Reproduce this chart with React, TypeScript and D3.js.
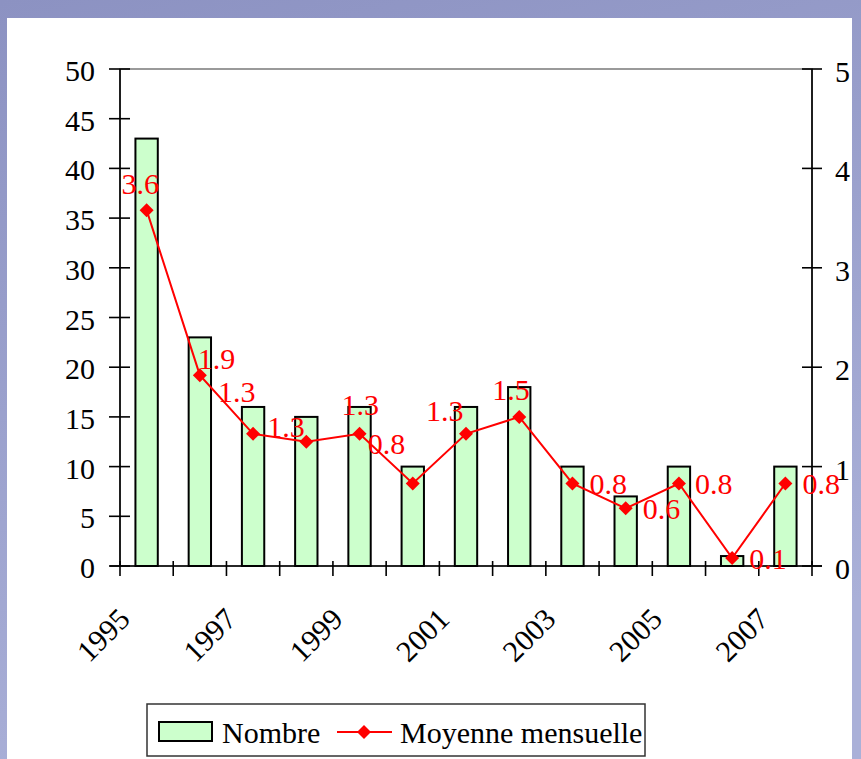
import * as d3 from "d3";
import { useEffect, useRef } from "react";

const years = ["1995", "1996", "1997", "1998", "1999", "2000", "2001", "2002", "2003", "2004", "2005", "2006", "2007"];
const nombre = [43, 23, 16, 15, 16, 10, 16, 18, 10, 7, 10, 1, 10];
const moyenne = [3.58, 1.92, 1.33, 1.25, 1.33, 0.83, 1.33, 1.5, 0.83, 0.58, 0.83, 0.08, 0.83];
const leftTicks = [0, 5, 10, 15, 20, 25, 30, 35, 40, 45, 50];
const rightTicks = [0, 1, 2, 3, 4, 5];
const shownYears = ["1995", "1997", "1999", "2001", "2003", "2005", "2007"];
const legendLabels = ["Nombre", "Moyenne mensuelle"];

// where each data label sits relative to its point (left edge, baseline)
const labelNudge: [number, number][] = [
    [-25, -16], [-2, -6], [-35, -32], [-39, -5], [-18, -19], [-45, -29], [-40, -13],
    [-27, -17], [17, 11], [17, 11], [16, 11], [17, 11], [17, 11],
];

const W = 861;
const H = 759;
const FONT = "Liberation Serif, Times New Roman, serif";

export default function App() {
    const svgRef = useRef<SVGSVGElement | null>(null);

    useEffect(() => {
        const svg = d3.select(svgRef.current);
        svg.selectAll("*").remove();

        const plot = { left: 120, right: 812, top: 69, bottom: 566 };

        // slide background
        const defs = svg.append("defs");
        const grad = defs.append("linearGradient").attr("id", "bg").attr("x1", 0).attr("y1", 0).attr("x2", 0.3).attr("y2", 1);
        grad.append("stop").attr("offset", 0).attr("stop-color", "#8c92c2");
        grad.append("stop").attr("offset", 1).attr("stop-color", "#aab0d8");
        svg.append("rect").attr("width", W).attr("height", H).attr("fill", "url(#bg)");
        svg.append("rect").attr("x", 7).attr("y", 18).attr("width", 845).attr("height", H - 18).attr("fill", "#ffffff");

        const x = d3.scaleBand().domain(years).range([plot.left, plot.right]).paddingInner(0.58).paddingOuter(0.29);
        const step = x.step();
        const cx = (d: string) => x(d)! + x.bandwidth() / 2;
        const yL = d3.scaleLinear().domain([0, 50]).range([plot.bottom, plot.top]);
        const yR = d3.scaleLinear().domain([0, 5]).range([plot.bottom, plot.top]);

        const g = svg.append("g").style("font-family", FONT);

        // plot area border
        g.append("rect")
            .attr("x", plot.left).attr("y", plot.top)
            .attr("width", plot.right - plot.left).attr("height", plot.bottom - plot.top)
            .attr("fill", "none").attr("stroke", "#9a9a9a").attr("stroke-width", 2);

        // bars
        g.selectAll("rect.bar")
            .data(nombre)
            .enter()
            .append("rect")
            .attr("class", "bar")
            .attr("x", (_, i) => x(years[i])!)
            .attr("width", x.bandwidth())
            .attr("y", (d) => yL(d))
            .attr("height", (d) => plot.bottom - yL(d))
            .attr("fill", "#ccffcc")
            .attr("stroke", "#000")
            .attr("stroke-width", 2);

        // axes
        const axis = g.append("g").attr("stroke", "#000").attr("stroke-width", 1.6);
        axis.append("line").attr("x1", plot.left).attr("x2", plot.left).attr("y1", plot.top).attr("y2", plot.bottom);
        axis.append("line").attr("x1", plot.right).attr("x2", plot.right).attr("y1", plot.top).attr("y2", plot.bottom);
        axis.append("line").attr("x1", plot.left - 10).attr("x2", plot.right + 10).attr("y1", plot.bottom).attr("y2", plot.bottom);

        leftTicks.forEach((t) => {
            axis.append("line").attr("x1", plot.left - 11).attr("x2", plot.left + 10).attr("y1", yL(t)).attr("y2", yL(t));
            g.append("text").attr("x", 95).attr("y", yL(t) + 12).attr("text-anchor", "end")
                .attr("font-size", 30).attr("fill", "#000").text(t);
        });
        rightTicks.forEach((t) => {
            axis.append("line").attr("x1", plot.right - 10).attr("x2", plot.right + 10).attr("y1", yR(t)).attr("y2", yR(t));
            g.append("text").attr("x", 835).attr("y", yR(t) + 13).attr("text-anchor", "start")
                .attr("font-size", 30).attr("fill", "#000").text(t);
        });
        d3.range(years.length + 1).forEach((i) => {
            const bx = plot.left + i * step;
            axis.append("line").attr("x1", bx).attr("x2", bx).attr("y1", plot.bottom - 5).attr("y2", plot.bottom + 10);
        });
        shownYears.forEach((yr) => {
            const px = cx(yr) - 15;
            const py = plot.bottom + 55;
            g.append("text")
                .attr("transform", `translate(${px},${py}) rotate(-45)`)
                .attr("text-anchor", "end")
                .attr("font-size", 30)
                .attr("fill", "#000")
                .text(yr);
        });

        // line series
        const line = d3.line<number>().x((_, i) => cx(years[i])).y((d) => yR(d));
        g.append("path").datum(moyenne).attr("d", line).attr("fill", "none").attr("stroke", "#ff0000").attr("stroke-width", 2);

        const diamond = (px: number, py: number, r: number) =>
            `M${px},${py - r}L${px + r},${py}L${px},${py + r}L${px - r},${py}Z`;
        g.selectAll("path.pt")
            .data(moyenne)
            .enter()
            .append("path")
            .attr("class", "pt")
            .attr("d", (d, i) => diamond(cx(years[i]), yR(d), 7))
            .attr("fill", "#ff0000");

        const fmt = d3.format(".1f");
        g.selectAll("text.lbl")
            .data(moyenne)
            .enter()
            .append("text")
            .attr("class", "lbl")
            .attr("x", (_, i) => cx(years[i]) + labelNudge[i][0])
            .attr("y", (d, i) => yR(d) + labelNudge[i][1])
            .attr("font-size", 30)
            .attr("fill", "#ff0000")
            .text((d) => fmt(d));

        // legend
        const lg = g.append("g");
        lg.append("rect").attr("x", 147).attr("y", 704).attr("width", 498).attr("height", 52)
            .attr("fill", "#fff").attr("stroke", "#333").attr("stroke-width", 1.5);
        lg.append("rect").attr("x", 159).attr("y", 722).attr("width", 53).attr("height", 19)
            .attr("fill", "#ccffcc").attr("stroke", "#000").attr("stroke-width", 2);
        lg.append("text").attr("x", 222).attr("y", 743).attr("font-size", 30).attr("fill", "#000").text(legendLabels[0]);
        lg.append("line").attr("x1", 337).attr("x2", 392).attr("y1", 732).attr("y2", 732)
            .attr("stroke", "#ff0000").attr("stroke-width", 2);
        lg.append("path").attr("d", diamond(364, 732, 7)).attr("fill", "#ff0000");
        lg.append("text").attr("x", 400).attr("y", 743).attr("font-size", 30).attr("fill", "#000").text(legendLabels[1]);
    }, []);

    return (
        <svg
            ref={svgRef}
            width={W}
            height={H}
            style={{ position: "absolute", left: 0, top: 0, display: "block" }}
        ></svg>
    );
}
